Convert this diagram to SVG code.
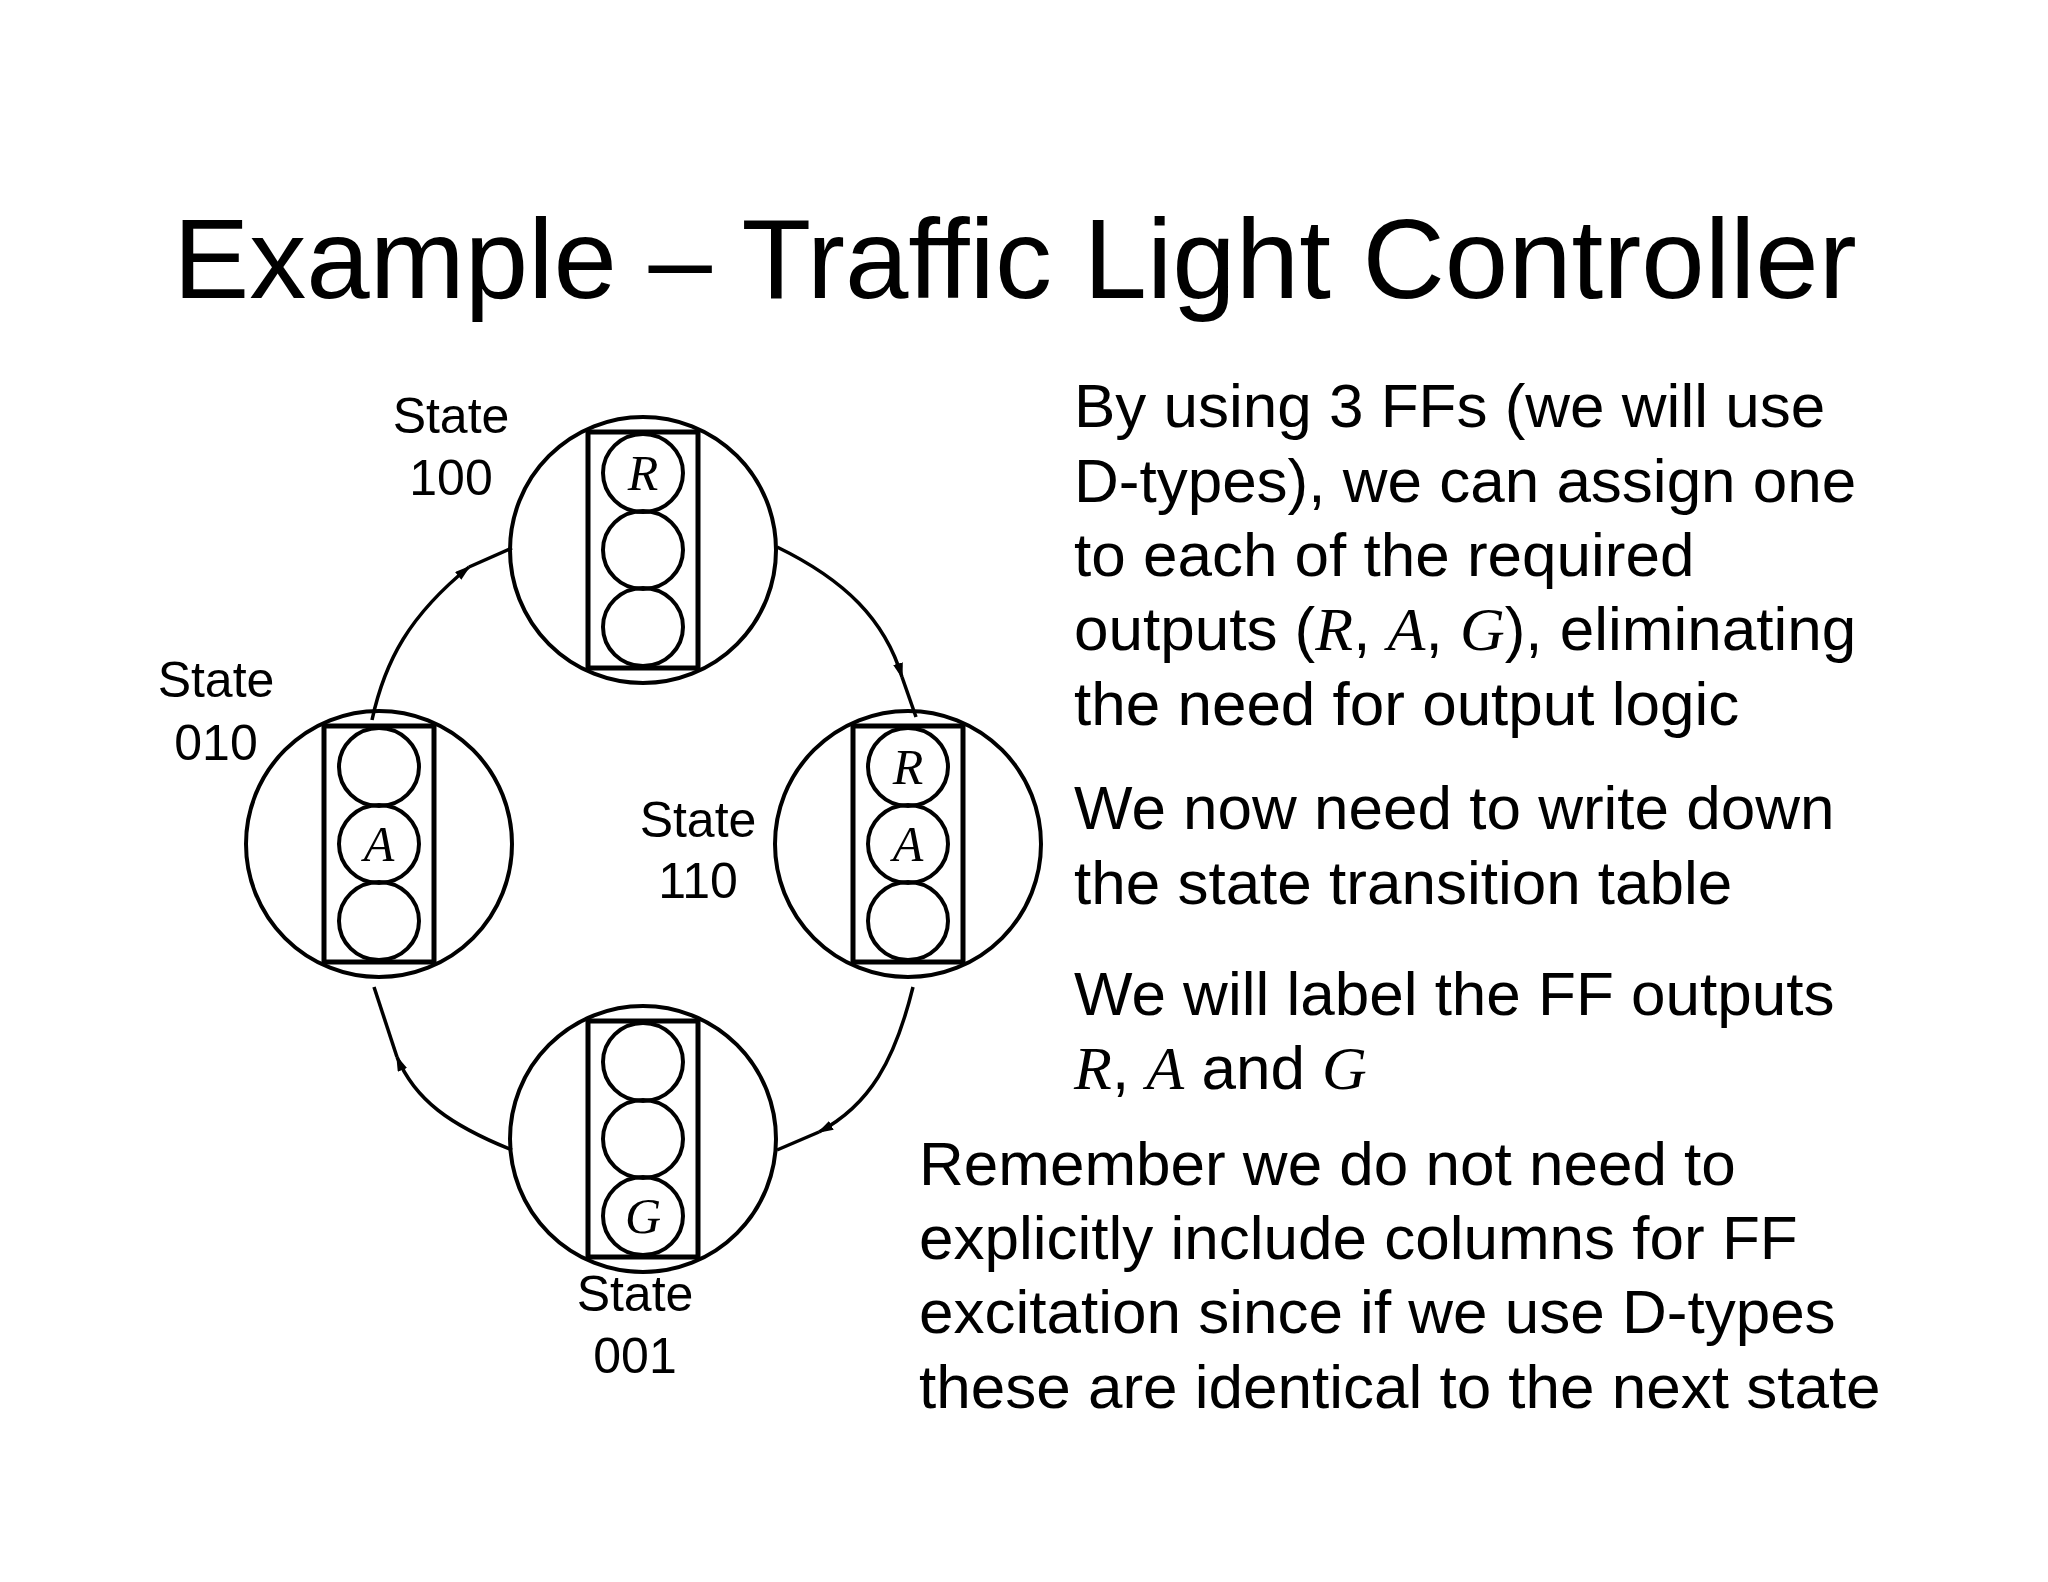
<svg xmlns="http://www.w3.org/2000/svg" width="2048" height="1582" viewBox="0 0 2048 1582">
<style>
.s{fill:none;stroke:#000;stroke-width:4}
.b{fill:none;stroke:#000;stroke-width:5}
.t{font-family:"Liberation Sans",Arial,sans-serif;fill:#000}
.l{font-family:"Liberation Sans",Arial,sans-serif;font-size:50px;text-anchor:middle}
.i{font-family:"Liberation Serif","Times New Roman",serif;font-style:italic}
.c{font-family:"Liberation Serif","Times New Roman",serif;font-style:italic;font-size:50px;text-anchor:middle}
.w{fill:none;stroke:#000;stroke-width:3.5}
</style>
<defs>
<marker id="ah" markerWidth="16" markerHeight="10" refX="14" refY="5" orient="auto" markerUnits="userSpaceOnUse">
<path d="M0,0 L16,5 L0,10 Z" fill="#000"/>
</marker>
<g id="light">
<rect x="-55" y="-118" width="110" height="236" class="b"/>
<ellipse cx="0" cy="-77" rx="40" ry="39" class="s"/>
<ellipse cx="0" cy="0" rx="40" ry="39" class="s"/>
<ellipse cx="0" cy="77" rx="40" ry="39" class="s"/>
</g>
</defs>
<rect width="2048" height="1582" fill="#fff"/>
<text class="t" x="1015" y="298" font-size="114" text-anchor="middle">Example – Traffic Light Controller</text>

<g id="connectors">
<path class="w" d="M372,720 C385,660 410,615 469,567" marker-end="url(#ah)"/>
<path class="w" d="M469,567 L512,548"/>
<path class="w" d="M777,547 C845,580 885,620 902,677" marker-end="url(#ah)"/>
<path class="w" d="M902,677 L916,717"/>
<path class="w" d="M913,987 C895,1060 870,1105 819,1132" marker-end="url(#ah)"/>
<path class="w" d="M819,1132 L777,1150"/>
<path class="w" d="M512,1150 C450,1125 415,1100 397,1057" marker-end="url(#ah)"/>
<path class="w" d="M397,1057 L374,987"/>
</g>

<g id="s100">
<circle cx="643" cy="550" r="133" class="s"/>
<use href="#light" x="643" y="550"/>
<text class="c" x="643" y="490">R</text>
<text class="l" x="451" y="433">State</text>
<text class="l" x="451" y="495">100</text>
</g>
<g id="s110">
<circle cx="908" cy="844" r="133" class="s"/>
<use href="#light" x="908" y="844"/>
<text class="c" x="908" y="784">R</text>
<text class="c" x="908" y="861">A</text>
<text class="l" x="698" y="837">State</text>
<text class="l" x="698" y="898">110</text>
</g>
<g id="s010">
<circle cx="379" cy="844" r="133" class="s"/>
<use href="#light" x="379" y="844"/>
<text class="c" x="379" y="861">A</text>
<text class="l" x="216" y="697">State</text>
<text class="l" x="216" y="760">010</text>
</g>
<g id="s001">
<circle cx="643" cy="1139" r="133" class="s"/>
<use href="#light" x="643" y="1139"/>
<text class="c" x="643" y="1233">G</text>
<text class="l" x="635" y="1311">State</text>
<text class="l" x="635" y="1373">001</text>
</g>

<g class="t" font-size="62">
<text x="1074" y="427">By using 3 FFs (we will use</text>
<text x="1074" y="502">D-types), we can assign one</text>
<text x="1074" y="576">to each of the required</text>
<text x="1074" y="650">outputs (<tspan class="i">R</tspan>, <tspan class="i">A</tspan>, <tspan class="i">G</tspan>), eliminating</text>
<text x="1074" y="725">the need for output logic</text>
<text x="1074" y="829">We now need to write down</text>
<text x="1074" y="904">the state transition table</text>
<text x="1074" y="1015">We will label the FF outputs</text>
<text x="1074" y="1089"><tspan class="i">R</tspan>, <tspan class="i">A</tspan> and <tspan class="i">G</tspan></text>
<text x="919" y="1185">Remember we do not need to</text>
<text x="919" y="1259">explicitly include columns for FF</text>
<text x="919" y="1333">excitation since if we use D-types</text>
<text x="919" y="1408">these are identical to the next state</text>
</g>
</svg>
